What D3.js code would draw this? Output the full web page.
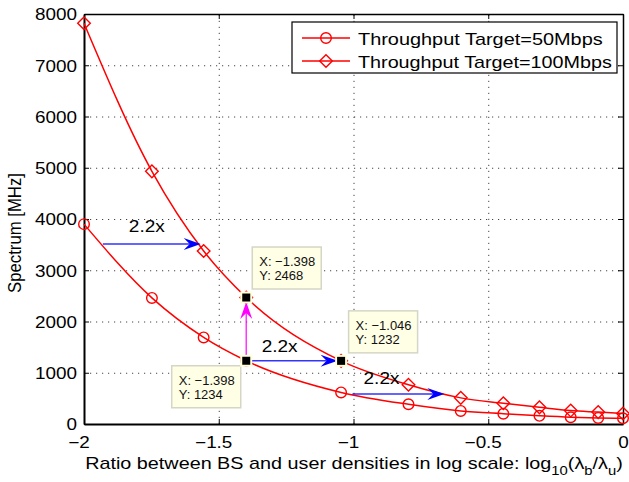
<!DOCTYPE html>
<html>
<head>
<meta charset="utf-8">
<script src="https://cdn.jsdelivr.net/npm/d3@7"></script>
<style>
  html, body { margin: 0; padding: 0; background: #fff; }
  svg { display: block; }
  svg text { font-family: "Liberation Sans", Arial, Helvetica, sans-serif; }
</style>
</head>
<body>
<svg id="chart" width="629" height="482"></svg>
<script>
// ---------- data ----------
const xValues = [-2, -1.748, -1.556, -1.398, -1.046, -0.796, -0.602, -0.444, -0.31, -0.194, -0.092, 0];
const spectrum50 = [3900, 2460, 1690, 1234, 616, 385, 255, 200, 160, 132, 118, 112];
const spectrum100 = [7820, 4930, 3375, 2468, 1232, 765, 510, 405, 325, 262, 232, 205];
const seriesNames = ["Throughput Target=50Mbps", "Throughput Target=100Mbps"];
const xTicks = [-2, -1.5, -1, -0.5, 0];
const xTickLabels = ["\u22122", "\u22121.5", "\u22121", "\u22120.5", "0"];
const yTicks = [0, 1000, 2000, 3000, 4000, 5000, 6000, 7000, 8000];
const yTickLabels = ["0", "1000", "2000", "3000", "4000", "5000", "6000", "7000", "8000"];
// data tips
const tipX = [-1.398, -1.046, -1.398];
const tipY = [2468, 1232, 1234];
const tipLabels = [["X: \u22121.398", "Y: 2468"], ["X: \u22121.046", "Y: 1232"], ["X: \u22121.398", "Y: 1234"]];
// annotation arrows: start (x,y) -> end (x,y)
const arrowX1 = [-1.93, -1.398, -1.398, -1.004];
const arrowY1 = [3510, 1234, 1234, 585];
const arrowX2 = [-1.567, -1.398, -1.059, -0.663];
const arrowY2 = [3510, 2380, 1234, 585];
const arrowColors = ["#0000ff", "#ff00ff", "#0000ff", "#0000ff"];
const noteText = ["2.2x", "2.2x", "2.2x"];
const noteX = [-1.767, -1.274, -0.896];
const noteY = [3746, 1405, 780];

// ---------- layout ----------
const svg = d3.select("#chart");
const x = d3.scaleLinear().domain([-2, 0]).range([84, 623]);
const y = d3.scaleLinear().domain([0, 8000]).range([424, 14]);
const red = "#ff0000";
const FS = 16;

function measure(str, fs) {
  const t = svg.append("text").attr("font-size", fs).text(str);
  const w = t.node().getComputedTextLength();
  t.remove();
  return w;
}
// the exported figure's text is stretched horizontally; derive factor from "8000" (42px wide)
const SX = 42 / measure("8000", FS);

// grid
const gridG = svg.append("g");
gridG.append("g").attr("transform", `translate(0,${y(0)})`)
  .call(d3.axisBottom(x).tickValues(xTicks).tickSize(-(y(0) - y(8000))).tickFormat(""))
  .call(g => g.select(".domain").remove());
gridG.append("g").attr("transform", `translate(${x(-2)},0)`)
  .call(d3.axisLeft(y).tickValues(yTicks).tickSize(-(x(0) - x(-2))).tickFormat(""))
  .call(g => g.select(".domain").remove());
gridG.selectAll("line").attr("stroke", "#444").attr("stroke-width", 1).attr("stroke-dasharray", "1.2,4.8");

// axes
const axB = svg.append("g").attr("transform", `translate(0,${y(0)})`)
  .call(d3.axisBottom(x).tickValues(xTicks).tickSizeInner(-5).tickSizeOuter(0).tickFormat((d, i) => xTickLabels[i]));
const axT = svg.append("g").attr("transform", `translate(0,${y(8000)})`)
  .call(d3.axisTop(x).tickValues(xTicks).tickSizeInner(-5).tickSizeOuter(0).tickFormat(""));
const axL = svg.append("g").attr("transform", `translate(${x(-2)},0)`)
  .call(d3.axisLeft(y).tickValues(yTicks).tickSizeInner(-5).tickSizeOuter(0).tickFormat((d, i) => yTickLabels[i]));
const axR = svg.append("g").attr("transform", `translate(${x(0)},0)`)
  .call(d3.axisRight(y).tickValues(yTicks).tickSizeInner(-5).tickSizeOuter(0).tickFormat(""));
[axB, axT, axL, axR].forEach(a => {
  a.attr("font-family", null);
  a.select(".domain").attr("stroke", "#000");
  a.selectAll(".tick line").attr("stroke", "#000").attr("stroke-width", 1);
});
axB.select(".domain").attr("stroke-width", 2);
axL.select(".domain").attr("stroke-width", 2);
axT.select(".domain").attr("stroke-width", 1.3);
axR.select(".domain").attr("stroke-width", 1.5);
// x tick labels: the number (without minus) is centred on the tick
const minusW = measure("\u2212", FS) * SX;
axB.selectAll(".tick text")
  .attr("y", 0).attr("dy", null).attr("x", 0)
  .attr("text-anchor", "middle")
  .attr("transform", (d, i) => `translate(${xTickLabels[i].startsWith("\u2212") ? -minusW / 2 : 0},24) scale(${SX},1)`)
  .attr("font-size", FS).attr("fill", "#000");
axL.selectAll(".tick text")
  .attr("x", 0).attr("dy", "0.36em")
  .attr("transform", `translate(-7,0) scale(${SX},1)`)
  .attr("font-size", FS).attr("fill", "#000");

// axis labels
const xl = svg.append("text")
  .attr("text-anchor", "middle").attr("font-size", FS).attr("fill", "#000");
xl.append("tspan").text("Ratio between BS and user densities in log scale: log");
xl.append("tspan").attr("dy", 6).attr("font-size", 12).text("10");
xl.append("tspan").attr("dy", -6).text("(\u03bb");
xl.append("tspan").attr("dy", 6).attr("font-size", 12).text("b");
xl.append("tspan").attr("dy", -6).text("/\u03bb");
xl.append("tspan").attr("dy", 6).attr("font-size", 12).text("u");
xl.append("tspan").attr("dy", -6).text(")");
const xlW = xl.node().getBBox().width;
xl.attr("transform", `translate(354,469) scale(${538 / xlW},1)`);

const yl = svg.append("text")
  .attr("text-anchor", "middle").attr("font-size", FS).attr("fill", "#000")
  .text("Spectrum [MHz]");
const ylW = yl.node().getComputedTextLength();
yl.attr("transform", `translate(21,233) rotate(-90) scale(${120 / ylW},${SX})`);

// lines
const line = d3.line().x(d => x(d[0])).y(d => y(d[1])).curve(d3.curveMonotoneX);
const pts50 = xValues.map((v, i) => [v, spectrum50[i]]);
const pts100 = xValues.map((v, i) => [v, spectrum100[i]]);
svg.append("path").attr("d", line(pts50)).attr("fill", "none").attr("stroke", red).attr("stroke-width", 1.5);
svg.append("path").attr("d", line(pts100)).attr("fill", "none").attr("stroke", red).attr("stroke-width", 1.5);

const diamond = (cx, cy, r) => `M${cx},${cy - r}L${cx + r},${cy}L${cx},${cy + r}L${cx - r},${cy}Z`;
svg.append("g").selectAll("circle").data(pts50).join("circle")
  .attr("cx", d => x(d[0])).attr("cy", d => y(d[1])).attr("r", 5.3)
  .attr("fill", "none").attr("stroke", red).attr("stroke-width", 1.4);
svg.append("g").selectAll("path").data(pts100).join("path")
  .attr("d", d => diamond(x(d[0]), y(d[1]), 6.3))
  .attr("fill", "none").attr("stroke", red).attr("stroke-width", 1.4);

// arrows
function arrow(x1, y1, x2, y2, color) {
  const px1 = x(x1), py1 = y(y1), px2 = x(x2), py2 = y(y2);
  const ang = Math.atan2(py2 - py1, px2 - px1);
  const L = 17, Wd = 6, N = 11;
  const g = svg.append("g");
  g.append("line")
    .attr("x1", px1).attr("y1", py1)
    .attr("x2", px2 - N * Math.cos(ang)).attr("y2", py2 - N * Math.sin(ang))
    .attr("stroke", color).attr("stroke-width", 1.5).attr("stroke-opacity", 0.8);
  g.append("path")
    .attr("d", `M0,0L${-L},${-Wd}L${-N},0L${-L},${Wd}Z`)
    .attr("transform", `translate(${px2},${py2}) rotate(${ang * 180 / Math.PI})`)
    .attr("fill", color);
}
arrowX1.forEach((v, i) => arrow(v, arrowY1[i], arrowX2[i], arrowY2[i], arrowColors[i]));

// annotation texts
const noteSX = 36 / measure("2.2x", 17);
noteText.forEach((t, i) => {
  svg.append("text")
    .attr("transform", `translate(${x(noteX[i])},${y(noteY[i])}) scale(${noteSX},1)`)
    .attr("text-anchor", "middle").attr("font-size", 17).attr("fill", "#000").text(t);
});

// data tips
const tipSX = 56 / measure("X: \u22121.398", 13);
const tipBoxes = [[6, -50.5], [7.5, -50], [-74.5, 5]];
tipX.forEach((tx, i) => {
  const px = x(tx), py = y(tipY[i]);
  const bx = px + tipBoxes[i][0], by = py + tipBoxes[i][1];
  svg.append("rect").attr("x", bx).attr("y", by).attr("width", 69).attr("height", 42)
    .attr("fill", "#ffffe6").attr("stroke", "#d6d6c6").attr("stroke-width", 1.5);
  tipLabels[i].forEach((s, k) => {
    svg.append("text").attr("transform", `translate(${bx + 7},${by + 19 + k * 14}) scale(${tipSX},1)`)
      .attr("font-size", 13).attr("fill", "#111").text(s);
  });
  svg.append("rect").attr("x", px - 5).attr("y", py - 5).attr("width", 10).attr("height", 10)
    .attr("fill", "#000").attr("stroke", "#ffffd8").attr("stroke-width", 2);
});

// legend
const legendW = [245, 254];
const lg = svg.append("g");
lg.append("rect").attr("x", 292).attr("y", 22).attr("width", 325).attr("height", 51)
  .attr("fill", "#fff").attr("stroke", "#000").attr("stroke-width", 1.2);
seriesNames.forEach((name, i) => {
  const ly = 38 + i * 23;
  lg.append("line").attr("x1", 302).attr("x2", 350).attr("y1", ly).attr("y2", ly)
    .attr("stroke", red).attr("stroke-width", 1.5);
  if (i === 0) {
    lg.append("circle").attr("cx", 326).attr("cy", ly).attr("r", 5.3)
      .attr("fill", "none").attr("stroke", red).attr("stroke-width", 1.4);
  } else {
    lg.append("path").attr("d", diamond(326, ly, 6.3))
      .attr("fill", "none").attr("stroke", red).attr("stroke-width", 1.4);
  }
  const sx = legendW[i] / measure(name, FS);
  lg.append("text").attr("transform", `translate(358,${ly + 7}) scale(${sx},1)`)
    .attr("font-size", FS).attr("fill", "#000").text(name);
});
</script>
</body>
</html>
